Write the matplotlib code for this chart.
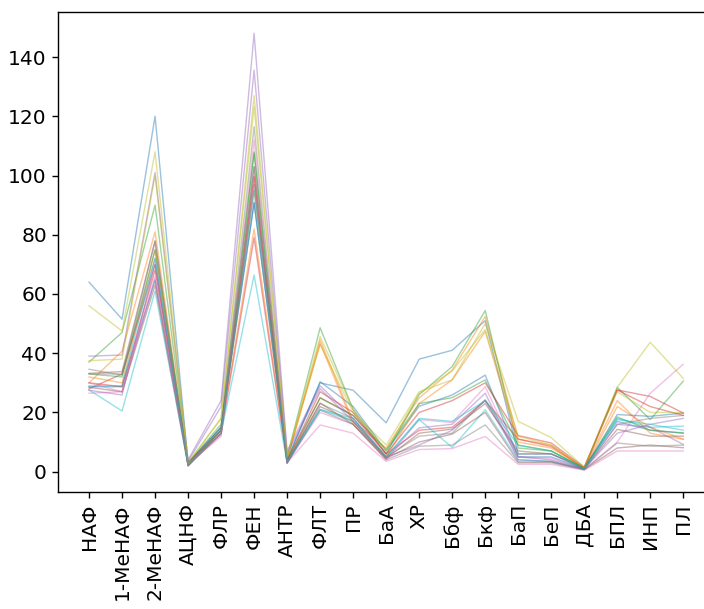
import numpy as np
import matplotlib.pyplot as plt

# компоненты ПАУ
labels = ['НАФ', '1-МеНАФ', '2-МеНАФ', 'АЦНФ', 'ФЛР', 'ФЕН', 'АНТР', 'ФЛТ', 'ПР',
          'БаА', 'ХР', 'Ббф', 'Бкф', 'БаП', 'БеП', 'ДБА', 'БПЛ', 'ИНП', 'ПЛ']

# концентрации по пробам (оценка по графику)
s0 = [64, 51.5, 120, 3, 15, 91, 4, 30, 27.5, 16.5, 38, 41, 51, 6, 6, 1.5, 17, 14, 13]
s1 = [30, 40.7, 81, 2.5, 14, 82, 4, 44.5, 17, 8, 24.9, 34.3, 52.4, 11, 9, 1, 22, 15, 11]
s2 = [37, 47, 90, 3, 16, 108, 5, 48.6, 21, 6, 26, 35.5, 54.4, 8, 7, 1, 28.5, 17.6, 30.6]
s3 = [28, 33, 70, 2.5, 13, 79, 3, 25, 19, 6, 14, 15, 24, 11, 8.5, 1.2, 27.6, 25.4, 19.8]
s4 = [39, 39.4, 101, 4, 24, 148, 7, 29, 18, 5, 9, 14, 24, 5, 4, 1, 13, 16, 18]
s5 = [33.2, 33.8, 78, 2, 14, 103, 3, 22, 17, 4.5, 13, 14.4, 23, 7, 6, 1, 14.3, 12, 12]
s6 = [26.5, 27, 65, 2.5, 12, 100, 3, 20, 16, 4, 17.6, 16.6, 28.7, 5, 4.5, 0.8, 10, 26.5, 36.3]
s7 = [34.6, 32.6, 77.7, 2, 15, 116.5, 3, 23, 18, 5, 12, 13, 24.3, 6, 6, 1, 16, 18, 19]
s8 = [56, 47.5, 108, 3, 18, 127, 5, 43, 20, 9, 27, 31, 50, 17, 11.5, 1.5, 28.5, 43.7, 31.5]
s9 = [27.6, 20.5, 61, 2.3, 13, 66.4, 2.9, 21, 17, 5, 17.6, 8.2, 20.9, 4, 3.5, 0.9, 18, 15, 15.4]
s10 = [28.7, 28.7, 64.7, 3, 15, 90.7, 4, 30.4, 22, 7, 22.1, 25.9, 32.6, 5, 5, 1, 19.3, 18.7, 19.8]
s11 = [32, 30, 74.8, 2.5, 14, 95, 4, 43.4, 16, 5, 23, 31, 47.3, 10, 8, 1.3, 24, 13, 10.9]
s12 = [33, 32, 75, 2.5, 14, 107.6, 4, 24.9, 19, 7.5, 23, 25, 31, 9, 7, 1.2, 18.5, 14, 13.1]
s13 = [30, 28.7, 68, 3, 14, 99.6, 3.5, 27, 20, 6, 20, 24, 30, 12.2, 9.7, 1.5, 27.6, 22, 19]
s14 = [27.5, 25.9, 70, 3.5, 22, 135.6, 6, 28, 17, 5, 14.8, 16, 26.5, 4, 3.5, 0.8, 16, 15, 9.2]
s15 = [28.5, 27, 63, 2, 13, 97, 3, 23.2, 16, 4.5, 10, 12.7, 20, 3.3, 3.3, 0.7, 8, 9, 8.1]
s16 = [30, 27, 66, 2.5, 12.4, 112, 3, 15.8, 13, 3.5, 7.5, 7.8, 11.9, 2.5, 2.5, 0.5, 7, 7, 7]
s17 = [33, 33, 72, 2, 13, 103, 3, 20.8, 16, 4, 8.6, 9, 15.8, 3, 3, 0.7, 9.7, 8.6, 9]
s18 = [37.5, 38, 100, 3, 18, 123.2, 5, 45.6, 21, 7, 26.5, 34, 48, 12, 9, 1.5, 27, 20, 20]
s19 = [29, 29, 72, 2.5, 14, 95, 3.5, 21, 18, 5, 18, 17, 24, 8.9, 7, 1, 17.6, 16, 14]

samples = [s0, s1, s2, s3, s4, s5, s6, s7, s8, s9,
           s10, s11, s12, s13, s14, s15, s16, s17, s18, s19]

fig = plt.figure(figsize=(7.04, 6.09), dpi=100)
ax = fig.add_axes([58 / 704, 117 / 609, 655 / 704, 480 / 609])

for s in samples:
    ax.plot(labels, s, linewidth=1.0, alpha=0.45)

ax.set_xlim(-0.94, 18.9)
ax.set_ylim(-6.85, 155.2)
ax.set_yticks([0, 20, 40, 60, 80, 100, 120, 140])
ax.tick_params(axis='both', labelsize=14.5, length=4.5, width=1.0)
ax.tick_params(axis='x', labelrotation=90)
for sp in ax.spines.values():
    sp.set_linewidth(1.0)

fig.savefig('out.png', dpi=100)
